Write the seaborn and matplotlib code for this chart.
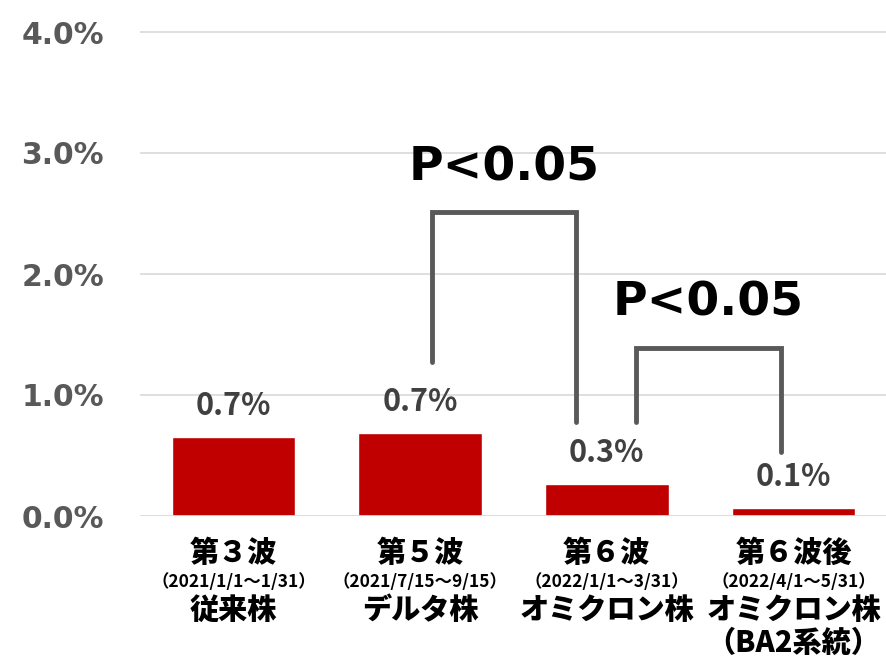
import matplotlib
matplotlib.use("Agg")
import matplotlib.pyplot as plt
import matplotlib.transforms as mtransforms
import seaborn as sns

# data
categories = ["第３波", "第５波", "第６波", "第６波後"]
periods = ["（2021/1/1～1/31）", "（2021/7/15～9/15）", "（2022/1/1～3/31）", "（2022/4/1～5/31）"]
strains = ["従来株", "デルタ株", "オミクロン株", "オミクロン株\n（BA2系統）"]
values = [0.653, 0.683, 0.264, 0.063]
value_labels = ["0.7%", "0.7%", "0.3%", "0.1%"]
yticks = [0, 1, 2, 3, 4]
ytick_labels = ["0.0%", "1.0%", "2.0%", "3.0%", "4.0%"]

# significance brackets: (x_left, x_right, y_left_bottom, y_right_bottom, y_top, label)
brackets = [
    (1.064, 1.834, 1.27, 0.78, 2.51, "P<0.05"),
    (2.155, 2.93, 0.78, 0.53, 1.39, "P<0.05"),
]

sns.set_theme(style="white")
plt.rcParams["font.family"] = ["Noto Sans CJK JP", "DejaVu Sans"]

W, H = 887, 659
fig = plt.figure(figsize=(W / 100, H / 100), dpi=100)
ytop = 4.05
ax = fig.add_axes([140 / W, 1 - 516 / H, 747 / W, (516 - 32) / H * ytop / 4.0])

sns.barplot(x=categories, y=values, color="#c00000", saturation=1, width=0.66, ax=ax)

ax.set_xlim(-0.5, 3.5)
ax.set_ylim(0, ytop)
ax.set_yticks(yticks)
ax.set_yticklabels(ytick_labels, fontfamily="DejaVu Sans", fontweight="bold",
                   fontsize=21.5, color="#595959")
ax.tick_params(axis="y", length=0, pad=26)
ax.set_xticks([])
ax.set_xlabel("")
ax.set_ylabel("")
for s in ax.spines.values():
    s.set_visible(False)
for t in yticks[1:]:
    ax.axhline(t, color="#d9d9d9", lw=1.2, zorder=0)
ax.axhline(0, color="#d9d9d9", lw=2, zorder=3)

# value labels
for i, (v, lab) in enumerate(zip(values, value_labels)):
    ax.text(i, v + 0.26, lab, ha="center", va="center", fontsize=22,
            fontweight="bold", color="#404040")

# brackets
for xl, xr, yl, yr, yt, lab in brackets:
    ax.plot([xl, xl, xr, xr], [yl, yt, yt, yr], color="#595959", lw=3.5,
            solid_joinstyle="miter", clip_on=False)
    ax.text((xl + xr) / 2, yt + 0.37, lab, ha="center", va="center",
            fontsize=34, fontweight="bold", color="black",
            fontfamily="DejaVu Sans")

# category labels below axis
trans = mtransforms.blended_transform_factory(ax.transData, fig.transFigure)
for i, (c, p, s) in enumerate(zip(categories, periods, strains)):
    ax.text(i, 1 - 553 / H, c, transform=trans, ha="center", va="center",
            fontsize=21, fontweight="heavy", color="black")
    ax.text(i, 1 - 582 / H, p, transform=trans, ha="center", va="center",
            fontsize=12.5, fontweight="bold", color="black")
    ax.text(i, 1 - 610 / H, s.split("\n")[0], transform=trans, ha="center", va="center",
            fontsize=21, fontweight="heavy", color="black")
    if "\n" in s:
        ax.text(i, 1 - 643 / H, s.split("\n")[1], transform=trans, ha="center",
                va="center", fontsize=21, fontweight="heavy", color="black")

fig.savefig("out.png", dpi=100)
